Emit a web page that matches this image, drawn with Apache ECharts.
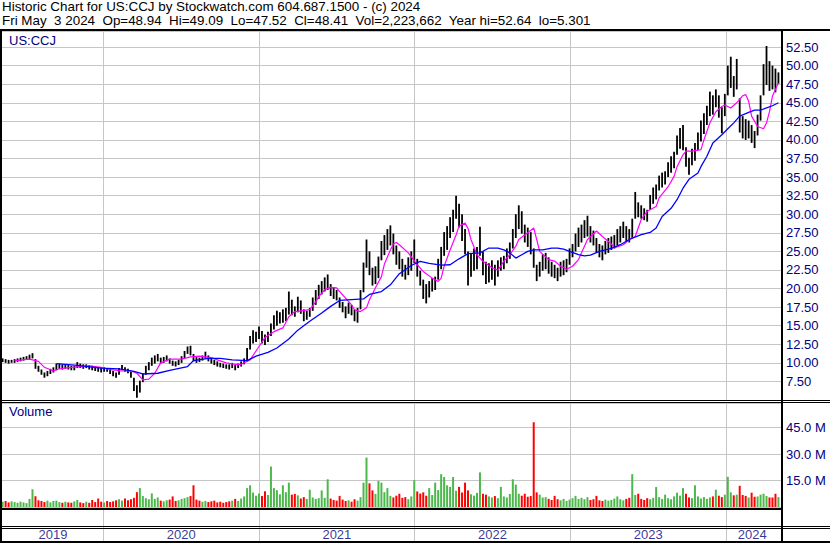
<!DOCTYPE html>
<html><head><meta charset="utf-8">
<script src="https://cdn.jsdelivr.net/npm/echarts@6/dist/echarts.min.js"></script>
<style>html,body{margin:0;padding:0;background:#fff}#c{width:830px;height:543px}</style>
</head><body><div id="c"></div>
<script>
// ---- data (weekly bars, US:CCJ) ----
const firstWeek = '2019-05-10';
const lows = [
10.1,10.0,9.9,10.0,10.0,10.1,10.2,10.3,10.4,10.5,
10.6,9.2,8.8,8.4,8.0,8.2,8.5,8.7,9.0,9.2,
9.1,9.2,9.1,9.0,9.0,9.3,9.3,9.2,9.3,9.1,
9.0,8.9,8.8,8.7,8.8,8.8,8.5,8.2,8.0,8.4,
9.0,8.8,8.6,8.0,6.2,5.3,6.0,7.4,8.4,9.0,
9.6,9.9,10.2,9.9,10.0,10.2,9.9,9.6,9.5,9.7,
10.0,10.6,11.2,11.0,10.2,10.0,10.1,10.3,10.6,10.2,
9.9,9.7,9.5,9.4,9.3,9.2,9.1,9.3,9.0,9.3,
9.5,9.8,10.3,11.8,12.6,12.8,13.2,12.6,12.4,12.8,
13.6,14.5,15.0,15.3,15.4,15.6,16.5,16.4,16.2,16.8,
16.6,15.6,15.8,16.2,17.0,17.8,18.6,19.2,19.6,19.8,
19.0,18.6,18.4,17.4,16.8,16.0,16.6,16.4,15.6,15.4,
17.2,19.5,22.8,21.8,20.4,20.6,21.4,23.8,24.5,25.2,
25.8,24.6,23.2,22.6,21.6,21.2,21.8,22.4,23.4,21.6,
20.4,18.6,18.0,18.8,19.6,19.8,21.2,22.6,24.4,25.2,
26.8,27.6,29.4,28.2,26.4,24.6,20.4,21.6,22.4,22.6,
24.4,21.8,20.6,20.8,21.2,20.4,21.6,22.4,22.6,23.4,
24.0,25.4,26.8,28.0,27.4,26.2,25.6,24.6,22.8,21.0,
21.6,22.4,22.6,22.0,21.6,21.4,21.0,21.6,21.8,22.2,
23.2,24.2,25.0,25.6,26.2,26.8,27.0,26.2,25.8,24.8,
24.2,23.8,24.6,24.8,25.2,25.4,25.8,26.2,26.8,26.4,
26.2,26.8,29.4,29.6,29.4,29.2,29.0,30.6,31.4,32.0,
33.2,33.6,34.0,35.0,35.6,36.2,38.0,38.8,38.6,36.4,
35.3,36.6,37.2,38.6,39.8,40.8,42.0,43.2,43.4,44.4,
43.0,40.9,43.2,46.0,47.0,45.8,46.8,41.0,40.2,40.0,
40.2,39.6,38.9,40.6,42.6,46.0,47.4,46.6,46.8,46.4,47.52];
const highs = [
10.6,10.5,10.4,10.4,10.5,10.6,10.7,10.8,10.9,11.1,
11.3,10.5,9.6,9.1,8.7,8.9,9.2,9.4,9.9,9.9,
9.8,9.8,9.7,9.6,9.6,10.1,9.9,9.8,9.8,9.7,
9.6,9.5,9.4,9.3,9.4,9.3,9.2,8.9,8.7,9.3,
9.7,9.4,9.2,8.8,8.0,7.0,7.6,8.6,9.6,10.1,
10.7,11.0,11.2,10.7,10.8,11.0,10.6,10.3,10.2,10.4,
10.9,11.6,12.2,12.3,11.2,10.8,10.7,11.0,11.5,11.0,
10.6,10.4,10.2,10.0,9.9,9.8,9.8,10.0,9.7,9.9,
10.2,10.6,12.0,13.6,14.4,14.2,14.9,14.3,13.8,14.2,
15.3,16.4,17.0,16.8,17.2,17.4,19.6,18.5,17.6,18.9,
18.4,17.2,17.0,17.4,18.8,19.8,20.5,21.0,21.5,21.9,
20.6,20.2,19.8,18.8,18.2,17.6,18.1,17.8,17.2,17.4,
19.8,23.5,26.6,25.0,22.8,23.0,24.3,26.4,27.2,28.0,
28.5,27.4,25.8,25.0,24.0,23.2,24.2,25.0,26.6,24.0,
22.4,21.2,20.6,21.0,21.4,21.6,24.0,25.6,27.6,28.4,
29.6,30.6,32.5,31.4,30.0,28.0,25.0,24.8,25.4,25.6,
28.3,25.0,23.6,23.4,23.8,23.2,23.8,24.2,24.4,25.4,
26.2,28.0,30.0,31.2,30.4,28.6,28.2,27.6,25.4,23.2,
23.6,24.6,24.8,24.2,23.6,23.2,22.8,23.6,23.8,24.0,
25.4,26.0,27.4,28.2,28.6,29.2,29.8,28.4,27.8,26.8,
26.0,25.8,26.4,26.8,27.0,27.2,28.0,28.4,29.0,28.4,
28.0,29.4,33.0,31.6,31.2,30.8,30.6,32.6,33.6,34.0,
35.2,35.6,35.8,37.0,37.8,38.4,40.6,41.6,42.0,39.0,
37.6,38.8,39.6,41.0,42.6,43.6,44.6,46.5,46.0,46.8,
46.0,44.4,46.2,50.0,51.2,48.6,50.9,45.6,43.2,42.8,
42.6,42.0,41.2,43.4,46.0,50.2,52.64,50.6,50.0,49.6,49.09];
// volume in millions of shares
const volM = [
3.0,3.4,2.6,3.2,2.8,2.4,3.0,2.6,2.2,4.6,
10.0,6.1,3.8,3.4,2.8,3.6,2.6,3.4,3.6,2.8,
2.4,3.0,2.6,2.4,3.2,4.0,2.6,2.2,3.0,2.4,
4.0,2.8,4.8,3.0,2.6,3.4,2.8,3.2,3.8,4.4,
3.6,4.8,3.8,4.4,5.2,8.4,10.7,6.2,5.0,4.4,
7.7,4.6,5.4,3.6,3.2,3.8,4.2,6.0,3.4,3.8,
4.6,5.0,5.6,6.2,12.3,4.2,3.6,3.0,3.4,2.8,
3.2,3.6,2.6,3.0,2.4,2.8,3.2,3.6,4.6,3.4,
4.8,6.0,10.7,12.3,8.2,6.4,7.6,6.2,8.9,6.8,
22.9,10.7,9.5,7.2,12.3,8.4,13.8,7.0,7.4,6.6,
4.8,5.6,4.6,9.8,5.4,4.6,5.0,9.4,5.2,15.7,
4.8,4.0,3.6,6.3,4.2,3.4,3.8,3.0,4.4,3.6,
5.6,13.8,28.0,13.4,9.4,7.4,14.8,13.8,8.4,10.7,
6.3,5.4,6.4,7.5,5.2,5.6,4.4,6.0,15.2,8.8,
7.6,8.3,6.4,10.7,6.8,13.8,9.6,18.6,17.0,12.3,
11.4,17.0,9.2,11.4,8.2,13.8,9.4,7.2,6.4,8.0,
19.6,7.5,7.0,6.0,5.4,6.2,5.0,11.4,6.0,5.4,
7.4,15.7,12.7,7.5,6.4,7.5,5.8,6.2,48.0,8.3,
7.0,5.4,5.6,4.6,4.0,6.3,4.4,3.8,4.6,3.4,
4.2,5.0,6.3,4.6,5.2,4.4,5.6,4.0,4.4,6.3,
3.8,3.4,4.2,3.6,4.0,4.8,6.0,4.4,3.8,4.6,
5.2,18.6,6.8,7.5,4.6,4.0,5.0,4.4,5.2,11.3,
5.6,4.6,7.0,5.0,4.4,6.0,8.1,6.4,10.7,7.5,
5.4,5.0,12.3,6.0,4.8,5.6,4.6,5.4,6.0,9.8,
6.4,5.6,7.0,17.1,8.3,6.6,7.0,12.0,6.8,6.3,
5.4,8.1,5.8,6.0,7.0,7.5,6.2,5.4,5.4,7.5,5.6];
// moving averages: [week index, value]
const maShort = [[4,10.3],[9,10.5],[12,10.2],[14,9.4],[17,8.9],[19,9.2],[23,9.4],[26,9.5],[29,9.6],[33,9.4],[36,9.1],[40,8.9],[43,8.9],[45,8.6],[47,7.7],[49,7.8],[51,8.6],[53,10.0],[56,10.5],[60,10.5],[63,10.8],[66,10.9],[70,10.7],[72,10.4],[75,10.0],[78,9.8],[80,9.8],[83,10.4],[86,12.2],[88,13.4],[91,14.2],[94,14.7],[96,16.2],[98,16.9],[100,17.0],[103,17.15],[105,18.2],[106,18.9],[108,19.85],[110,20.15],[112,20.1],[113,19.6],[115,18.7],[117,17.8],[118,17.15],[120,16.9],[122,17.4],[123,18.5],[125,20.1],[127,21.6],[128,23.3],[130,25.2],[131,26.0],[132,26.2],[133,25.9],[136,24.8],[139,23.2],[141,22.3],[144,21.4],[146,20.96],[147,21.4],[148,23.0],[150,25.2],[152,27.2],[153,28.4],[155,28.8],[156,28.1],[157,26.6],[159,24.55],[161,23.65],[162,23.4],[164,22.8],[166,22.5],[167,23.0],[168,23.7],[170,24.55],[172,25.7],[173,26.6],[176,27.5],[178,28.15],[179,26.6],[180,25.0],[183,23.9],[185,23.7],[187,23.0],[189,22.6],[191,23.0],[193,23.9],[195,25.7],[196,26.6],[199,27.75],[201,27.0],[204,26.0],[205,25.45],[208,25.9],[210,26.6],[212,27.0],[214,29.3],[216,30.4],[219,31.05],[220,32.2],[223,33.7],[225,35.1],[226,36.4],[228,38.0],[229,38.5],[231,38.5],[234,38.7],[235,40.0],[237,42.3],[239,43.8],[241,44.5],[242,44.7],[244,44.3],[246,45.0],[248,45.95],[249,46.1],[250,45.2],[251,43.2],[253,41.8],[255,41.5],[256,42.3],[257,43.8],[258,45.9],[260,47.65]];
const maLong = [[18,9.9],[25,9.65],[33,9.3],[39,9.2],[44,8.85],[47,8.5],[52,8.6],[56,9.0],[62,9.5],[64,10.3],[69,10.6],[73,10.6],[77,10.4],[82,10.3],[85,10.9],[89,11.4],[92,12.0],[96,13.2],[99,14.4],[103,15.6],[107,16.7],[110,17.6],[113,18.4],[117,18.5],[121,18.6],[123,19.2],[127,19.6],[130,20.5],[133,22.0],[137,23.1],[140,23.65],[143,23.4],[147,23.15],[150,23.2],[153,24.0],[156,24.7],[160,24.8],[163,25.45],[166,25.45],[168,25.2],[170,24.8],[172,24.1],[174,24.55],[176,25.0],[178,25.2],[181,25.2],[184,25.45],[186,25.45],[188,25.3],[190,25.0],[193,24.55],[195,24.4],[197,24.5],[200,25.0],[204,25.4],[207,25.9],[210,26.6],[214,27.25],[217,27.55],[219,28.15],[221,29.7],[224,30.8],[226,31.95],[228,33.5],[230,34.7],[233,35.55],[234,36.4],[236,37.8],[238,39.6],[241,40.7],[243,41.5],[245,42.3],[247,43.2],[250,43.7],[252,44.0],[254,44.0],[256,44.3],[258,44.6],[260,45.0]];
const yearLabels = ['2019','2020','2021','2022','2023','2024'];
const headerLine1 = 'Historic Chart for US:CCJ by Stockwatch.com 604.687.1500 - (c) 2024';
const headerLine2 = 'Fri May  3 2024  Op=48.94  Hi=49.09  Lo=47.52  Cl=48.41  Vol=2,223,662  Year hi=52.64  lo=5.301';
const symbolLabel = 'US:CCJ';
const volumeLabel = 'Volume';

// ---- helpers ----
function fracYear(ms){const d=new Date(ms);const y=d.getUTCFullYear();const s=Date.UTC(y,0,1),e=Date.UTC(y+1,0,1);return y+(ms-s)/(e-s);}
const t0 = Date.parse(firstWeek+'T00:00:00Z');
const weekT = lows.map((_,i)=>fracYear(t0+i*7*86400000));
const X_MIN = 2019, X_MAX = 2024.3526;
const NAVY = '#000080', GRID = '#c6c6c6', FONT = '"Liberation Sans", Arial, sans-serif';

const priceData = weekT.map((t,i)=>[t,lows[i],highs[i]]);
const volData = weekT.map((t,i)=>{
  const mid=(lows[i]+highs[i])/2, prev=i?(lows[i-1]+highs[i-1])/2:mid;
  return [t, volM[i], mid>=prev?1:0];
});
const yearPos = yearLabels.map(y=>{const a=Math.max(+y,weekT[0]);const b=Math.min(+y+1,weekT[weekT.length-1]);return [(a+b)/2,0.2,y];});

function xAxisCfg(gi){return {type:'value',gridIndex:gi,min:X_MIN,max:X_MAX,interval:1,
  axisLine:{show:false},axisTick:{show:false},axisLabel:{show:false},
  splitLine:{show:true,lineStyle:{color:GRID,width:1}}};}
function gridCfg(top,height){return {left:-52.4,right:49,top:top,height:height,containLabel:false,outerBoundsMode:'none'};}

const chart = echarts.init(document.getElementById('c'),null,{renderer:'svg'});
chart.setOption({
  animation:false,
  backgroundColor:'#fff',
  grid:[gridCfg(31,369),gridCfg(403,104),gridCfg(510,31)],
  xAxis:[xAxisCfg(0),xAxisCfg(1),xAxisCfg(2)],
  yAxis:[
    {type:'value',gridIndex:0,position:'right',min:5,max:54.66,interval:2.5,
     axisLine:{show:false},axisTick:{show:false},
     axisLabel:{margin:5,color:NAVY,fontSize:13,fontFamily:FONT,showMinLabel:false,showMaxLabel:false,formatter:v=>v.toFixed(2)},
     splitLine:{lineStyle:{color:GRID,width:1}}},
    {type:'value',gridIndex:1,position:'right',min:0,max:58.9,interval:15,
     axisLine:{show:false},axisTick:{show:false},
     axisLabel:{margin:5,color:NAVY,fontSize:13,fontFamily:FONT,showMinLabel:false,showMaxLabel:false,formatter:v=>v.toFixed(1)+' M'},
     splitLine:{lineStyle:{color:GRID,width:1}}},
    {type:'value',gridIndex:2,min:0,max:1,show:false}
  ],
  series:[
    {type:'custom',xAxisIndex:0,yAxisIndex:0,data:priceData,clip:true,encode:{x:0,y:[1,2]},z:3,
     renderItem:(p,api)=>{const lo=api.coord([api.value(0),api.value(1)]);const hi=api.coord([api.value(0),api.value(2)]);
       return {type:'rect',shape:{x:lo[0]-0.9,y:hi[1],width:1.8,height:Math.max(1,lo[1]-hi[1])},style:{fill:'#000'}};}},
    {type:'line',xAxisIndex:0,yAxisIndex:0,data:maShort.map(d=>[weekT[d[0]],d[1]]),showSymbol:false,symbol:'none',z:4,
     lineStyle:{color:'#ff00ff',width:1.2}},
    {type:'line',xAxisIndex:0,yAxisIndex:0,data:maLong.map(d=>[weekT[d[0]],d[1]]),showSymbol:false,symbol:'none',z:4,
     lineStyle:{color:'#0000ff',width:1.3}},
    {type:'custom',xAxisIndex:1,yAxisIndex:1,data:volData,clip:true,encode:{x:0,y:1},z:3,
     renderItem:(p,api)=>{const top=api.coord([api.value(0),api.value(1)]);const base=api.coord([api.value(0),0]);
       return {type:'rect',shape:{x:top[0]-1,y:top[1],width:2,height:base[1]-top[1]},style:{fill:api.value(2)?'#4cb84c':'#ff0000'}};}},
    {type:'scatter',xAxisIndex:2,yAxisIndex:2,data:yearPos,symbolSize:1,itemStyle:{color:'rgba(0,0,0,0)'},
     label:{show:true,position:'inside',formatter:p=>p.value[2],color:NAVY,fontSize:13,fontFamily:FONT}}
  ],
  graphic:[
    {type:'text',left:2,top:0,style:{text:headerLine1,fill:'#000',font:'13.4px '+FONT}},
    {type:'text',left:2,top:14,style:{text:headerLine2,fill:'#000',font:'13.4px '+FONT}},
    {type:'text',left:9,top:34,style:{text:symbolLabel,fill:NAVY,font:'13px '+FONT},z:10},
    {type:'text',left:9,top:405,style:{text:volumeLabel,fill:NAVY,font:'13px '+FONT},z:10},
    {type:'rect',shape:{x:0,y:29,width:830,height:2},style:{fill:'#000'},z:20},
    {type:'rect',shape:{x:0,y:29,width:2,height:514},style:{fill:'#000'},z:20},
    {type:'rect',shape:{x:781,y:29,width:2,height:514},style:{fill:'#000'},z:20},
    {type:'rect',shape:{x:0,y:400,width:830,height:1},style:{fill:'#000'},z:20},
    {type:'rect',shape:{x:0,y:402,width:830,height:1},style:{fill:'#000'},z:20},
    {type:'rect',shape:{x:0,y:508,width:783,height:2},style:{fill:'#000'},z:20},
    {type:'rect',shape:{x:0,y:526,width:830,height:1},style:{fill:'#000'},z:20},
    {type:'rect',shape:{x:0,y:528,width:830,height:1},style:{fill:'#000'},z:20},
    {type:'rect',shape:{x:0,y:541,width:830,height:2},style:{fill:'#000'},z:20}
  ]
});
</script></body></html>
